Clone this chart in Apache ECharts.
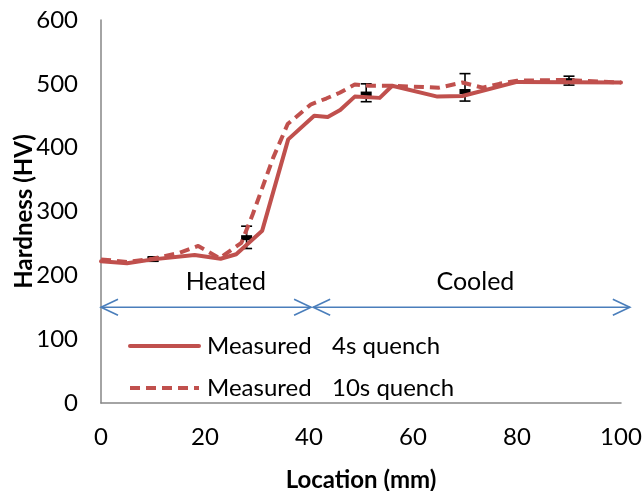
<!DOCTYPE html>
<html>
<head>
<meta charset="utf-8">
<script src="https://cdn.jsdelivr.net/npm/echarts@6/dist/echarts.min.js"></script>
<style>
  html, body { margin: 0; padding: 0; background: #fff; }
  #chart { width: 643px; height: 491px; }
</style>
</head>
<body>
<div id="chart"></div>
<script>
// Hardness traverse: 4 s quench (solid) and 10 s quench (dashed)
const loc4s = [0, 5, 10, 18, 23, 26, 31, 36, 41, 43.6, 46, 48.8, 53.6, 56, 64.7, 69.5, 80, 100];
const hv4s  = [222, 219, 225, 232, 226, 233, 270, 413, 450, 448, 459, 480, 478, 497, 480, 481, 503, 502];

const loc10s = [0, 5, 10, 15, 18.7, 22.8, 27, 29.2, 33.1, 35.9, 40.4, 43.3, 45.9, 48.8, 51.6, 56, 65, 69.5, 73.4, 76.6, 80, 89, 100];
const hv10s  = [225, 221, 226, 235, 246, 227, 251, 296, 384, 437, 468, 477, 486, 499, 497, 497, 494, 502, 494, 500, 505, 506, 502];

// Mean hardness with scatter band at selected positions
const errLoc  = [10, 28, 51, 70, 90];
const errMean = [225, 259, 484, 488, 505];
const errLow  = [222, 242, 472, 473, 498];
const errHigh = [229, 277, 500, 516, 512];

// Zone annotations
const zoneStart = [0, 40.8];
const zoneEnd   = [40.4, 101.7];
const zoneLevel = 150;
const zoneLabels = ['Heated', 'Cooled'];
const zoneLabelLoc = [24, 72];
const zoneLabelLevel = 189;

const seriesNames = ['4s', '10s'];
const legendText = { '4s': ['Measured', '4s quench'], '10s': ['Measured', '10s quench'] };

const xTicks = { min: 0, max: 100, step: 20 };
const yTicks = { min: 0, max: 600, step: 100 };

const RED = '#C0504D';
const BLUE = '#4A7EBB';
const AXIS = '#868686';
const FONT = 'Lato';

const chart = echarts.init(document.getElementById('chart'));

const zip = (xs, ys) => xs.map((x, i) => [x, ys[i]]);

const option = {
  animation: false,
  backgroundColor: '#fff',
  textStyle: { fontFamily: FONT },
  grid: { left: 101, right: 22, top: 20, bottom: 88, containLabel: false, outerBoundsMode: 'none' },
  xAxis: {
    type: 'value',
    min: xTicks.min, max: xTicks.max, interval: xTicks.step,
    name: 'Location (mm)',
    nameLocation: 'middle',
    nameGap: 65,
    nameTextStyle: { fontFamily: FONT, fontSize: 24, fontWeight: 'bold', color: '#000' },
    axisLine: { lineStyle: { color: AXIS, width: 1.5 } },
    axisTick: { show: false },
    splitLine: { show: false },
    axisLabel: { fontFamily: FONT, fontSize: 24, color: '#000', margin: 22 }
  },
  yAxis: {
    type: 'value',
    min: yTicks.min, max: yTicks.max, interval: yTicks.step,
    name: 'Hardness (HV)',
    nameLocation: 'middle',
    nameGap: 65,
    nameMoveOverlap: false,
    nameTextStyle: { fontFamily: FONT, fontSize: 24, fontWeight: 'bold', color: '#000' },
    axisLine: { show: true, lineStyle: { color: AXIS, width: 1.5 } },
    axisTick: { show: false },
    splitLine: { show: false },
    axisLabel: { fontFamily: FONT, fontSize: 24, color: '#000', margin: 23 }
  },
  legend: {
    data: seriesNames,
    orient: 'vertical',
    left: 128,
    top: 332,
    padding: 0,
    itemWidth: 69,
    itemHeight: 14,
    itemGap: 14,
    selectedMode: false,
    itemStyle: { opacity: 0 },
    lineStyle: { width: 4 },
    formatter: name => '{a|' + legendText[name][0] + '}{b|' + legendText[name][1] + '}',
    textStyle: {
      fontFamily: FONT, fontSize: 24, color: '#000', lineHeight: 28,
      rich: {
        a: { fontFamily: FONT, fontSize: 24, color: '#000', width: 125, padding: [0, 0, 0, 3] },
        b: { fontFamily: FONT, fontSize: 24, color: '#000' }
      }
    }
  },
  series: [
    {
      name: 'errors',
      type: 'custom',
      z: 2,
      data: errLoc.map((x, i) => [x, errMean[i], errLow[i], errHigh[i]]),
      renderItem: (params, api) => {
        const x = api.value(0);
        const pm = api.coord([x, api.value(1)]);
        const pl = api.coord([x, api.value(2)]);
        const ph = api.coord([x, api.value(3)]);
        const cap = 5.5;
        const st = { stroke: '#000', lineWidth: 1.6 };
        return {
          type: 'group',
          children: [
            { type: 'line', shape: { x1: pl[0], y1: pl[1], x2: ph[0], y2: ph[1] }, style: st },
            { type: 'line', shape: { x1: pl[0] - cap, y1: pl[1], x2: pl[0] + cap, y2: pl[1] }, style: st },
            { type: 'line', shape: { x1: ph[0] - cap, y1: ph[1], x2: ph[0] + cap, y2: ph[1] }, style: st },
            { type: 'rect', shape: { x: pm[0] - 5.5, y: pm[1] - 2.5, width: 11, height: 5 }, style: { fill: '#000' } }
          ]
        };
      }
    },
    {
      name: '4s',
      type: 'line',
      z: 3,
      data: zip(loc4s, hv4s),
      symbol: 'none',
      color: RED,
      lineStyle: { color: RED, width: 4, type: 'solid', cap: 'round', join: 'round' }
    },
    {
      name: '10s',
      type: 'line',
      z: 3,
      data: zip(loc10s, hv10s),
      symbol: 'none',
      color: RED,
      lineStyle: { color: RED, width: 4, type: [10, 6], join: 'round' }
    },
    {
      name: 'zones',
      type: 'custom',
      z: 4,
      data: zoneStart.map((x, i) => [x, zoneEnd[i], zoneLevel]),
      renderItem: (params, api) => {
        const a = api.coord([api.value(0), api.value(2)]);
        const b = api.coord([api.value(1), api.value(2)]);
        const hl = 17, hw = 8;
        const st = { stroke: BLUE, lineWidth: 1.6, fill: null };
        return {
          type: 'group',
          children: [
            { type: 'line', shape: { x1: a[0], y1: a[1], x2: b[0], y2: b[1] }, style: st },
            { type: 'polyline', shape: { points: [[a[0] + hl, a[1] - hw], [a[0], a[1]], [a[0] + hl, a[1] + hw]] }, style: st },
            { type: 'polyline', shape: { points: [[b[0] - hl, b[1] - hw], [b[0], b[1]], [b[0] - hl, b[1] + hw]] }, style: st }
          ]
        };
      }
    },
    {
      name: 'zoneLabels',
      type: 'custom',
      z: 4,
      data: zoneLabels.map((t, i) => [zoneLabelLoc[i], zoneLabelLevel, i]),
      renderItem: (params, api) => {
        const p = api.coord([api.value(0), api.value(1)]);
        return {
          type: 'text',
          style: {
            text: zoneLabels[api.value(2)],
            x: p[0], y: p[1],
            align: 'center', verticalAlign: 'middle',
            fontFamily: FONT, fontSize: 25, fill: '#000'
          }
        };
      }
    }
  ]
};

chart.setOption(option);
</script>
</body>
</html>
